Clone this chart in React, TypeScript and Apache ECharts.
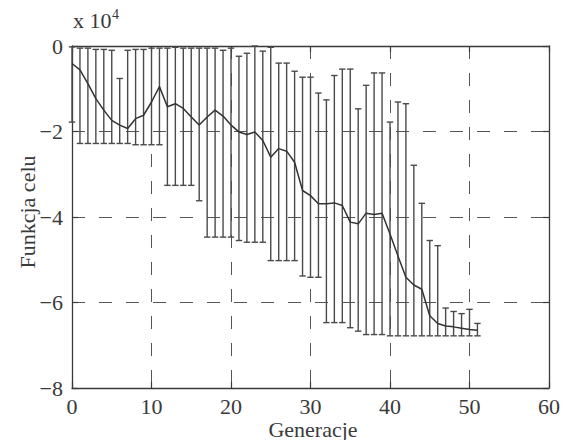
import React, { useEffect, useRef } from "react";
import * as echarts from "echarts";

const generations = [
  0, 1, 2, 3, 4, 5, 6, 7, 8, 9, 10, 11, 12, 13, 14, 15, 16, 17, 18, 19, 20, 21, 22, 23, 24, 25,
  26, 27, 28, 29, 30, 31, 32, 33, 34, 35, 36, 37, 38, 39, 40, 41, 42, 43, 44, 45, 46, 47, 48, 49, 50, 51,
];

const meanValues = [
  -0.41, -0.56, -0.88, -1.23, -1.5, -1.74, -1.85, -1.93, -1.7, -1.62, -1.31, -0.95, -1.42, -1.35,
  -1.46, -1.66, -1.85, -1.66, -1.5, -1.64, -1.85, -2.01, -2.07, -2.01, -2.21, -2.6, -2.4, -2.46,
  -2.72, -3.38, -3.5, -3.69, -3.69, -3.67, -3.73, -4.12, -4.16, -3.91, -3.94, -3.91, -4.4, -4.91,
  -5.41, -5.59, -5.69, -6.31, -6.49, -6.55, -6.57, -6.6, -6.63, -6.65,
];

const lowerValues = [
  -1.78, -2.28, -2.28, -2.28, -2.28, -2.28, -2.28, -2.28, -2.31, -2.31, -2.31, -2.31, -3.26, -3.26,
  -3.26, -3.26, -3.62, -4.47, -4.47, -4.47, -4.47, -4.55, -4.59, -4.59, -4.59, -5.02, -5.02, -5.02,
  -5.02, -5.38, -5.41, -5.41, -6.47, -6.47, -6.47, -6.59, -6.67, -6.75, -6.75, -6.75, -6.78, -6.78,
  -6.78, -6.78, -6.78, -6.78, -6.78, -6.78, -6.78, -6.78, -6.78, -6.78,
];

const upperValues = [
  -0.02, -0.05, -0.05, -0.08, -0.08, -0.1, -0.76, -0.1, -0.08, -0.08, -0.05, -0.05, -0.05, -0.03,
  -0.05, -0.05, -0.05, -0.05, -0.05, -0.1, -0.05, -0.24, -0.17, 0, -0.12, -0.03, -0.4, -0.4, -0.59,
  -0.73, -0.73, -1.1, -1.26, -0.69, -0.54, -0.54, -1.47, -0.92, -0.63, -0.63, -1.78, -1.31, -1.35,
  -2.79, -3.68, -4.55, -4.67, -6.13, -6.21, -6.26, -6.16, -6.49,
];

const xTicks = { min: 0, max: 60, interval: 10 };
const yTicks = { min: -8, max: 0, interval: 2 };

const xLabel = "Generacje";
const yLabel = "Funkcja celu";
const scaleLabel = "x 10";
const scaleExp = "4";

const FONT = "'Liberation Serif', 'DejaVu Serif', serif";
const INK = "#3a3a3a";

export default function App() {
  const ref = useRef<HTMLDivElement>(null);

  useEffect(() => {
    if (!ref.current) return;
    const chart = echarts.init(ref.current, null, { renderer: "svg" });

    const errData = generations.map((g, i) => [g, lowerValues[i], upperValues[i]]);
    const lineData = generations.map((g, i) => [g, meanValues[i]]);

    const fmtY = (v: number) => (v === 0 ? "0" : v < 0 ? "\u2212" + Math.abs(v) : String(v));

    const axisCommon = {
      axisLine: { show: true, onZero: false, lineStyle: { color: INK, width: 1.3 } },
      axisTick: { show: true, inside: true, length: 6, lineStyle: { color: INK, width: 1.2 } },
    };

    chart.setOption({
      animation: false,
      backgroundColor: "#ffffff",
      grid: { left: 72, right: 13, top: 46, bottom: 52, containLabel: false },
      xAxis: [
        {
          type: "value",
          position: "bottom",
          ...xTicks,
          ...axisCommon,
          axisLabel: { fontFamily: FONT, fontSize: 22, lineHeight: 20, color: INK, margin: 8 },
          splitLine: { show: true, lineStyle: { color: "#555", type: [13, 14], width: 1 } },
        },
        {
          type: "value",
          position: "top",
          ...xTicks,
          ...axisCommon,
          axisLabel: { show: false },
          splitLine: { show: false },
        },
      ],
      yAxis: [
        {
          type: "value",
          position: "left",
          ...yTicks,
          ...axisCommon,
          axisLabel: { fontFamily: FONT, fontSize: 22, color: INK, margin: 9, formatter: fmtY },
          splitLine: { show: true, lineStyle: { color: "#555", type: [13, 14], width: 1 } },
        },
        {
          type: "value",
          position: "right",
          ...yTicks,
          ...axisCommon,
          axisLabel: { show: false },
          splitLine: { show: false },
        },
      ],
      series: [
        {
          type: "custom",
          xAxisIndex: 0,
          yAxisIndex: 0,
          data: errData,
          encode: { x: 0, y: [1, 2] },
          renderItem: (params: any, api: any) => {
            const x = api.value(0);
            const lo = api.value(1);
            const hi = api.value(2);
            const pLo = api.coord([x, lo]);
            const pHi = api.coord([x, hi]);
            const hw = 3.2;
            const st = { stroke: "#4a4a4a", lineWidth: 1.4 };
            return {
              type: "group",
              children: [
                { type: "line", shape: { x1: pLo[0], y1: pLo[1], x2: pHi[0], y2: pHi[1] }, style: st },
                { type: "line", shape: { x1: pLo[0] - hw, y1: pLo[1], x2: pLo[0] + hw, y2: pLo[1] }, style: st },
                { type: "line", shape: { x1: pHi[0] - hw, y1: pHi[1], x2: pHi[0] + hw, y2: pHi[1] }, style: st },
              ],
            };
          },
          z: 3,
        },
        {
          type: "line",
          xAxisIndex: 0,
          yAxisIndex: 0,
          data: lineData,
          showSymbol: false,
          symbol: "none",
          lineStyle: { color: "#333", width: 1.5 },
          z: 4,
        },
      ],
      graphic: [
        {
          type: "text",
          x: 73,
          y: 9,
          style: {
            text: scaleLabel,
            font: `22px ${FONT}`,
            fill: INK,
            align: "left",
            textAlign: "left",
            verticalAlign: "top",
            textVerticalAlign: "top",
          },
        },
        {
          type: "text",
          x: 112,
          y: 7,
          style: {
            text: scaleExp,
            font: `14px ${FONT}`,
            fill: INK,
            align: "left",
            textAlign: "left",
            verticalAlign: "top",
            textVerticalAlign: "top",
          },
        },
        {
          type: "text",
          x: 313,
          y: 429,
          style: {
            text: xLabel,
            font: `22px ${FONT}`,
            lineHeight: 20,
            fill: INK,
            align: "center",
            textAlign: "center",
            verticalAlign: "middle",
            textVerticalAlign: "middle",
          },
        },
        {
          type: "text",
          x: 27,
          y: 212,
          rotation: Math.PI / 2,
          style: {
            text: yLabel,
            font: `22px ${FONT}`,
            fill: INK,
            align: "center",
            textAlign: "center",
            verticalAlign: "middle",
            textVerticalAlign: "middle",
          },
        },
      ],
    });

    return () => chart.dispose();
  }, []);

  return (
    <div
      ref={ref}
      style={{ position: "fixed", left: 0, top: 0, width: 563, height: 440, background: "#fff" }}
    />
  );
}
